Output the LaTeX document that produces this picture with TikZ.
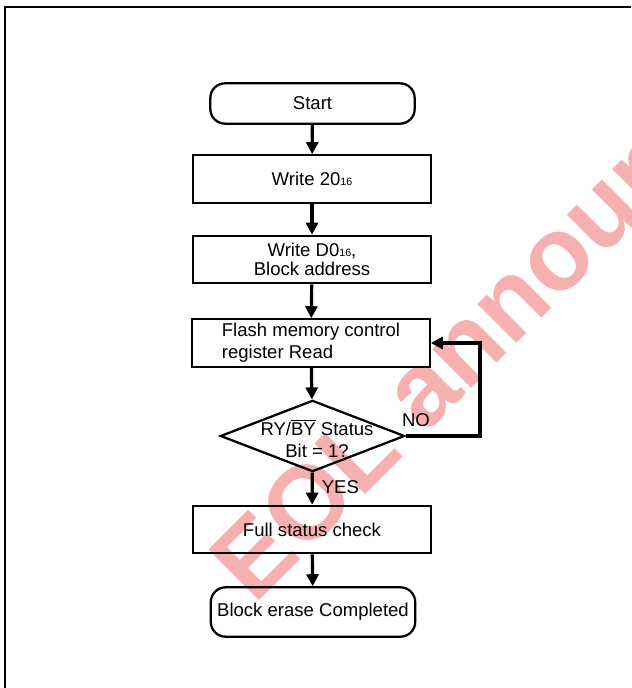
\documentclass[tikz,border=0pt]{standalone}
\usepackage{fontspec}
\setmainfont{Liberation Sans}
\usetikzlibrary{shapes.geometric,arrows.meta}
\definecolor{wmred}{RGB}{247,176,176}
\newcommand{\hexn}[1]{{\fontsize{8pt}{8pt}\selectfont #1}}
\newcommand{\nbar}[1]{$\overline{\mbox{#1}}$}

\begin{document}
\begin{tikzpicture}[x=0.75pt,y=-0.75pt,
	every node/.style={font=\fontsize{13.9pt}{15.5pt}\selectfont},
	box/.style={draw,line width=1.7pt,minimum width=178pt,minimum height=35.5pt,inner sep=0pt},
	term/.style={draw,line width=1.7pt,rounded corners=11pt,minimum width=153.25pt,inner sep=0pt},
	decision/.style={draw,diamond,line width=1.7pt,minimum width=138.25pt,minimum height=53.5pt,inner sep=0pt},
	flow/.style={-{Triangle[length=9pt,width=9pt]},line width=2.4pt},
	watermark/.style={text=wmred,font=\fontsize{78pt}{78pt}\selectfont\bfseries,inner sep=0pt}]
	\useasboundingbox (0,0) rectangle (631,688);
	\clip (0,0) rectangle (631,688);
	\node[watermark,rotate=45,anchor=base west] (eol) at (254,606) {EOL announce};
	\draw[line width=1.7pt] (5,688) -- (5,7) -- (631,7);

	\node[term,minimum height=30.25pt] (start) at (312.5,103.5) {Start};
	\node[box] (w20) at (312,179) {Write 20\hexn{16}};
	\node[box,align=center,font=\fontsize{13.9pt}{14.3pt}\selectfont] (wd0) at (312,259.5) {Write D0\hexn{16},\\ Block address};
	\node[box,align=left,font=\fontsize{13.9pt}{16.3pt}\selectfont] (rd) at (311,343) {Flash memory control\\register Read};
	\node[decision] (chk) at (312.5,436) {};
	\node[align=center,inner sep=0pt,font=\fontsize{13.9pt}{17pt}\selectfont] (chktxt) at (317,439) {RY/\nbar{BY} Status\\Bit = 1?};
	\node[box] (full) at (312,529.5) {Full status check};
	\node[term,minimum height=37pt] (done) at (313,612) {Block erase Completed};
	\coordinate (back) at (480,343);

	\draw[flow] (start) to (w20);
	\draw[flow] (w20) to (wd0);
	\draw[flow] (wd0) to (rd);
	\draw[flow] (rd) to (chk);
	\draw[flow] (chk) to node[pos=0.45,right,inner sep=0pt,xshift=6pt] {YES} (full);
	\draw[flow] (chk.east) -| node[pos=0,above right,inner sep=0pt,xshift=-4pt,yshift=6pt] {NO} (back) -- (rd.east);
	\draw[flow] (full) to (done);
\end{tikzpicture}
\end{document}
